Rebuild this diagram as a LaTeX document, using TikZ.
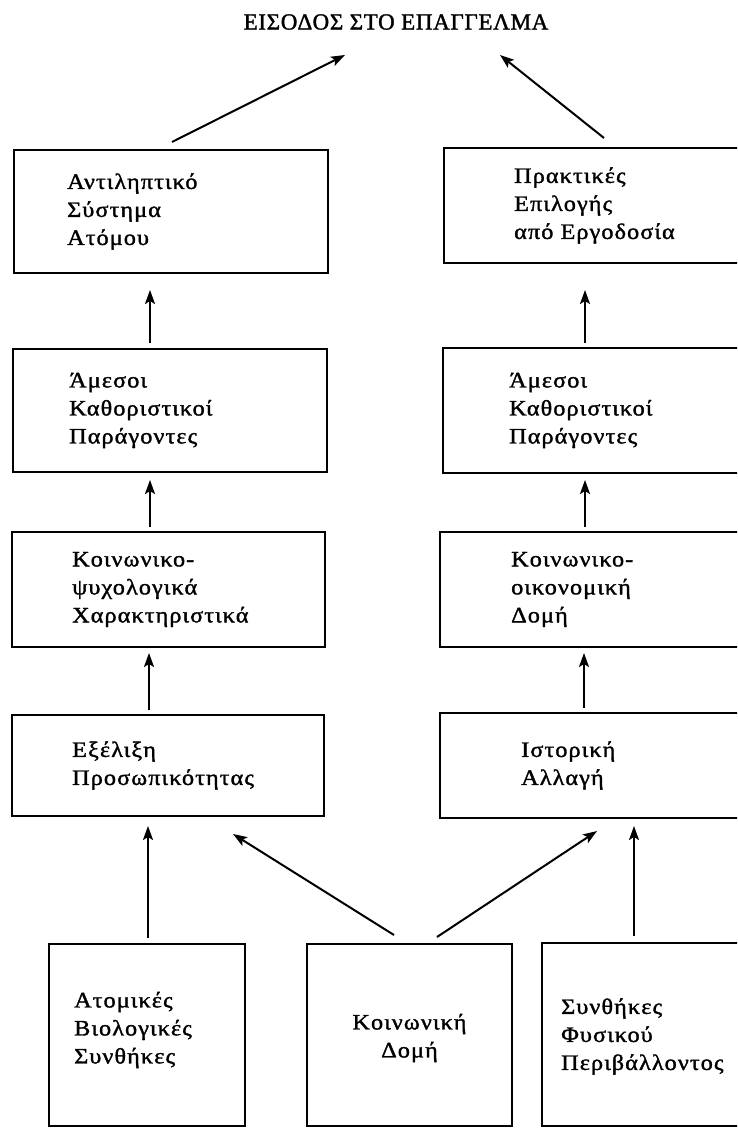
\documentclass[tikz,border=0pt]{standalone}
\usepackage{fontspec}
\setmainfont{Liberation Serif}
\newfontfamily\gr[FakeStretch=1.1,LetterSpace=5,FakeBold=1.5]{Liberation Serif}
\newfontfamily\grtitle[LetterSpace=3,FakeBold=1.5]{Liberation Serif}
\usetikzlibrary{arrows.meta,calc}
\begin{document}
\begin{tikzpicture}[x=1pt,y=-1pt,
  box/.style={draw,line width=2pt,outer sep=0pt,inner sep=0pt},
  txt/.style={anchor=west,align=left,inner sep=0pt,font=\gr\fontsize{22}{28}\selectfont},
  ctxt/.style={align=center,inner sep=0pt,font=\gr\fontsize{22}{28}\selectfont},
  arr/.style={line width=2pt,-{Stealth[length=14pt,width=10pt,inset=3pt]}}]
\useasboundingbox (0,0) rectangle (737,1128);
\clip (0,0) rectangle (737,1128);
% title
\node[inner sep=0pt,font=\grtitle\fontsize{23}{27}\selectfont] (T) at (396,22) {ΕΙΣΟΔΟΣ ΣΤΟ ΕΠΑΓΓΕΛΜΑ};
% left column
\node[box,minimum width=314pt,minimum height=123pt] (L1) at (171,211.5) {};
\node[box,minimum width=314pt,minimum height=123pt] (L2) at (170,410.5) {};
\node[box,minimum width=313pt,minimum height=115pt] (L3) at (168.5,589.5) {};
\node[box,minimum width=312pt,minimum height=101pt] (L4) at (168,765.5) {};
% right column
\node[box,minimum width=304pt,minimum height=115pt] (R1) at (596,205.5) {};
\node[box,minimum width=305pt,minimum height=125pt] (R2) at (595.5,410.5) {};
\node[box,minimum width=308pt,minimum height=115pt] (R3) at (594,589.5) {};
\node[box,minimum width=308pt,minimum height=105pt] (R4) at (594,765.5) {};
% bottom row
\node[box,minimum width=196pt,minimum height=182pt] (B1) at (147,1035) {};
\node[box,minimum width=205pt,minimum height=182pt] (B2) at (409.5,1035) {};
\node[box,minimum width=206pt,minimum height=183pt] (B3) at (645,1034.5) {};
% texts
\node[txt] (L1t) at ([xshift=53pt]L1.west) {Αντιληπτικό\\Σύστημα\\Ατόμου};
\node[txt] (L2t) at ([xshift=56pt]L2.west) {Άμεσοι\\Καθοριστικοί\\Παράγοντες};
\node[txt] (L3t) at ([xshift=60pt]L3.west) {Κοινωνικο-\\ψυχολογικά\\Χαρακτηριστικά};
\node[txt] (L4t) at ([xshift=60pt]L4.west) {Εξέλιξη\\Προσωπικότητας};
\node[txt] (R1t) at ([xshift=70pt]R1.west) {Πρακτικές\\Επιλογής\\από Εργοδοσία};
\node[txt] (R2t) at ([xshift=66pt]R2.west) {Άμεσοι\\Καθοριστικοί\\Παράγοντες};
\node[txt] (R3t) at ([xshift=71pt]R3.west) {Κοινωνικο-\\οικονομική\\Δομή};
\node[txt] (R4t) at ([xshift=81pt]R4.west) {Ιστορική\\Αλλαγή};
\node[txt] (B1t) at ([xshift=25pt,yshift=5pt]B1.west) {Ατομικές\\Βιολογικές\\Συνθήκες};
\node[ctxt] (B2t) at ([yshift=-3pt]B2.center) {Κοινωνική\\Δομή};
\node[txt] (B3t) at ([xshift=19pt,yshift=-2pt]B3.west) {Συνθήκες\\Φυσικού\\Περιβάλλοντος};
% connectors to title
\coordinate (tipL) at (345,55);
\coordinate (tipR) at (500,55);
\draw[arr] ([xshift=1pt,yshift=8pt]L1.north) -- (tipL);
\draw[arr] ([xshift=160pt,yshift=10pt]R1.north west) -- (tipR);
% vertical connectors left
\draw[arr] ([xshift=137pt,yshift=6pt]L2.north west) -- ([xshift=136pt,yshift=-17pt]L1.south west);
\draw[arr] ([xshift=138pt,yshift=5pt]L3.north west) -- ([xshift=137pt,yshift=-8pt]L2.south west);
\draw[arr] ([xshift=137pt,yshift=5pt]L4.north west) -- ([xshift=137pt,yshift=-6pt]L3.south west);
% vertical connectors right
\draw[arr] ([xshift=142pt,yshift=5pt]R2.north west) -- ([xshift=141pt,yshift=-27pt]R1.south west);
\draw[arr] ([xshift=145pt,yshift=5pt]R3.north west) -- ([xshift=142pt,yshift=-7pt]R2.south west);
\draw[arr] ([xshift=144pt,yshift=5pt]R4.north west) -- ([xshift=144pt,yshift=-6pt]R3.south west);
% bottom connectors
\draw[arr] ([xshift=99pt,yshift=6pt]B1.north west) -- ([xshift=136pt,yshift=-10pt]L4.south west);
\draw[arr] ([xshift=87pt,yshift=9pt]B2.north west) -- ([xshift=221pt,yshift=-18pt]L4.south west);
\draw[arr] ([xshift=130pt,yshift=7pt]B2.north west) -- ([xshift=157pt,yshift=-13pt]R4.south west);
\draw[arr] ([xshift=92pt,yshift=7pt]B3.north west) -- ([xshift=194pt,yshift=-8pt]R4.south west);
\end{tikzpicture}
\end{document}
